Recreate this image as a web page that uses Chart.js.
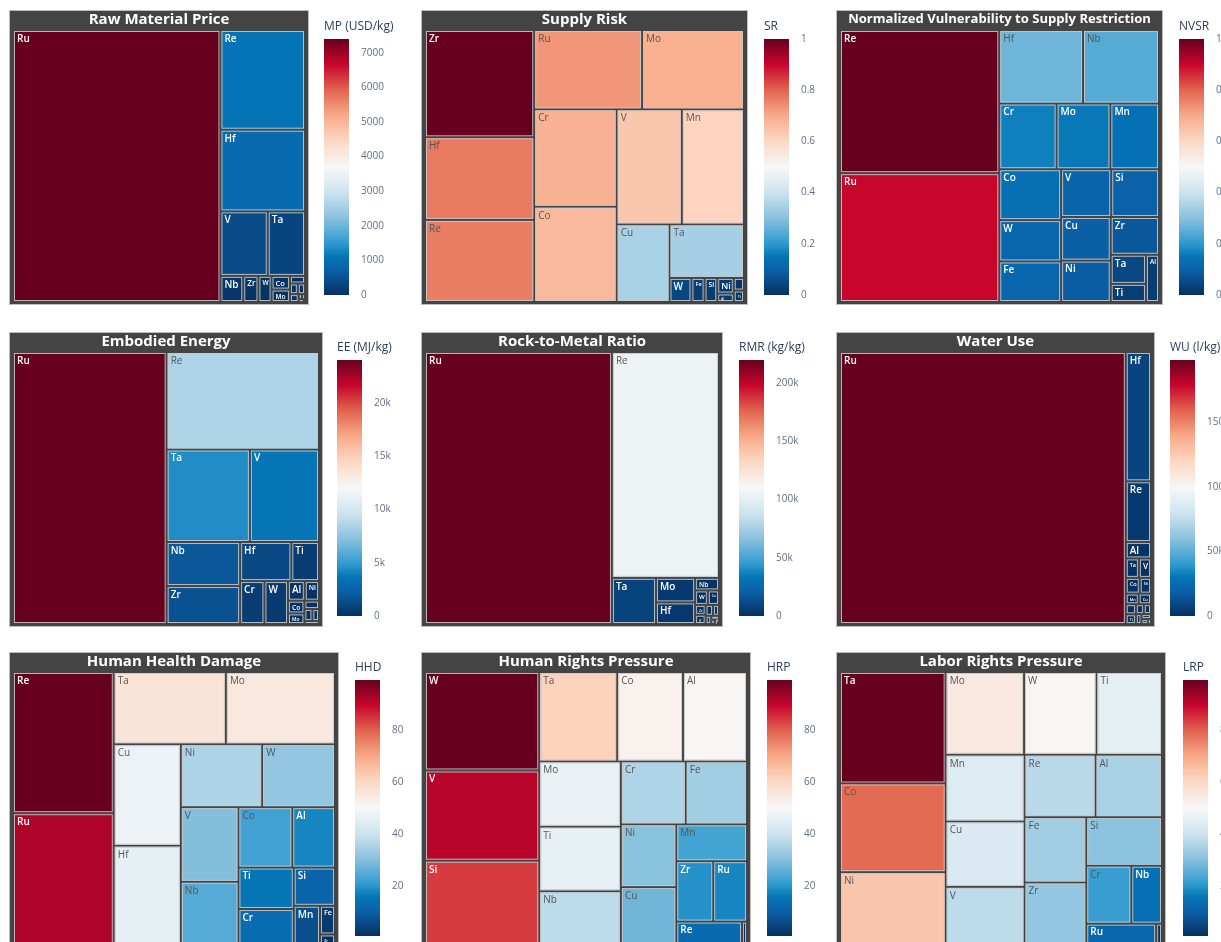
<!DOCTYPE html>
<html>
<head>
<meta charset="utf-8">
<script src="https://cdn.jsdelivr.net/npm/chart.js@4.4.1/dist/chart.umd.min.js"></script>
<style>
html, body { margin: 0; padding: 0; background: #fff; }
body { width: 1221px; height: 942px; overflow: hidden; position: relative; }
canvas { position: absolute; }
</style>
</head>
<body>
<script>
// values, biggest first (cell area and colour both follow the value)
const mpLabels = ['Ru','Re','Hf','V','Ta','Nb','Zr','W','Co','Mo','Ni','Cr','Ti','Cu','Al','Mn','Si','Fe'];
const mpValues = [7400,1105,905,400,315,78,52,45,33,30,15,11,10,9,2.2,2,1.8,0.5];
const mpRange = [0, 7400];
const mpTicks = [0,1000,2000,3000,4000,5000,6000,7000];

const srLabels = ['Zr','Hf','Re','Ru','Mo','Cr','Co','V','Mn','Cu','Ta','W','Fe','Si','Ni','Al','Nb','Ti'];
const srValues = [1.0,0.77,0.765,0.73,0.69,0.685,0.67,0.64,0.61,0.35,0.34,0.045,0.027,0.026,0.022,0.012,0.011,0.01];
const srRange = [0, 1];
const srTicks = [0,0.2,0.4,0.6,0.8,1];

const nvsrLabels = ['Re','Ru','Hf','Nb','Cr','Mo','Mn','Co','W','Fe','V','Si','Cu','Ni','Zr','Ta','Ti','Al'];
const nvsrValues = [1.0,0.9,0.27,0.245,0.165,0.155,0.14,0.138,0.112,0.11,0.105,0.1,0.095,0.09,0.08,0.045,0.028,0.027];
const nvsrRange = [0, 1];
const nvsrTicks = [0,0.2,0.4,0.6,0.8,1];

const eeLabels = ['Ru','Re','Ta','V','Nb','Zr','Hf','Ti','Cr','W','Al','Ni','Co','Mo','Cu','Mn','Si','Fe'];
const eeValues = [24000,8530,4420,3670,1860,1600,1150,620,600,580,190,160,120,100,70,55,45,25];
const eeRange = [0, 24000];
const eeTicks = [0,5000,10000,15000,20000];

const rmrLabels = ['Ru','Re','Ta','Mo','Hf','Nb','W','Co','Zr','V','Cu','Ni','Ti','Cr','Mn','Si','Al','Fe'];
const rmrValues = [220000,104600,8800,4150,3650,1300,800,700,450,420,350,280,200,130,70,35,28,12];
const rmrRange = [0, 220000];
const rmrTicks = [0,50000,100000,150000,200000];

const wuLabels = ['Ru','Hf','Re','Al','Ta','V','Co','Ni','Mn','Cu','Mo','Ti','Nb','W','Zr','Cr','Si','Fe'];
const wuValues = [198000,8300,3900,1050,650,600,560,450,350,330,260,250,200,180,140,120,80,40];
const wuRange = [0, 198000];
const wuTicks = [0,50000,100000,150000];

const hhdLabels = ['Re','Ru','Ta','Mo','Cu','Hf','Ni','W','V','Nb','Co','Al','Ti','Cr','Si','Mn','Fe','Zr'];
const hhdValues = [99.3,92,56.5,55,47.5,46,35.7,32,30,25,22.7,18,16,13.5,11,7,3,1];
const hhdRange = [1, 99.3];
const hhdTicks = [20,40,60,80];

const hrpLabels = ['W','V','Si','Ta','Co','Al','Mo','Ti','Nb','Cr','Fe','Ni','Cu','Mn','Zr','Ru','Re','Hf'];
const hrpValues = [99.3,91,84,61.5,52,50.5,47,46.5,38,36,34,30.7,27.8,23,19.7,18,13,1];
const hrpRange = [1, 99.3];
const hrpTicks = [20,40,60,80];

const lrpLabels = ['Ta','Co','Ni','Mo','W','Ti','Mn','Cu','V','Re','Al','Fe','Zr','Si','Cr','Nb','Ru','Hf'];
const lrpValues = [99.3,79,64,54.7,50.5,45.7,44.4,43.5,38,37.4,35,34,32,31,22,15,12,1];
const lrpRange = [1, 99.3];
const lrpTicks = [20,40,60,80];

// RdBu-like diverging scale, blue = low, red = high
const colorStops = [[0,'#053061'],[0.1,'#0b62a9'],[0.15,'#0474b6'],[0.2,'#2d99cf'],[0.3,'#88c1dd'],
  [0.4,'#cde3ef'],[0.5,'#f7f7f7'],[0.6,'#fcd9c5'],[0.7,'#f7ab8a'],[0.8,'#e2654f'],[0.9,'#c8062c'],[1,'#67001f']];

const plain = v => String(v);
const kfmt = v => v === 0 ? '0' : (v / 1000) + 'k';
const dec = v => String(Math.round(v * 10) / 10);

const panels = [
  {title: 'Raw Material Price', cbTitle: 'MP (USD/kg)', labels: mpLabels, values: mpValues, range: mpRange, ticks: mpTicks, fmt: plain, x: 9, w: 300, row: 0, cbX: 324},
  {title: 'Supply Risk', cbTitle: 'SR', labels: srLabels, values: srValues, range: srRange, ticks: srTicks, fmt: dec, x: 421, w: 327, row: 0, cbX: 764},
  {title: 'Normalized Vulnerability to Supply Restriction', cbTitle: 'NVSR', labels: nvsrLabels, values: nvsrValues, range: nvsrRange, ticks: nvsrTicks, fmt: dec, x: 836, w: 327, row: 0, cbX: 1179},
  {title: 'Embodied Energy', cbTitle: 'EE (MJ/kg)', labels: eeLabels, values: eeValues, range: eeRange, ticks: eeTicks, fmt: kfmt, x: 9, w: 314, row: 1, cbX: 337},
  {title: 'Rock-to-Metal Ratio', cbTitle: 'RMR (kg/kg)', labels: rmrLabels, values: rmrValues, range: rmrRange, ticks: rmrTicks, fmt: kfmt, x: 421, w: 302, row: 1, cbX: 739},
  {title: 'Water Use', cbTitle: 'WU (l/kg)', labels: wuLabels, values: wuValues, range: wuRange, ticks: wuTicks, fmt: kfmt, x: 836, w: 319, row: 1, cbX: 1170},
  {title: 'Human Health Damage', cbTitle: 'HHD', labels: hhdLabels, values: hhdValues, range: hhdRange, ticks: hhdTicks, fmt: plain, x: 9, w: 330, row: 2, cbX: 355},
  {title: 'Human Rights Pressure', cbTitle: 'HRP', labels: hrpLabels, values: hrpValues, range: hrpRange, ticks: hrpTicks, fmt: plain, x: 421, w: 330, row: 2, cbX: 767},
  {title: 'Labor Rights Pressure', cbTitle: 'LRP', labels: lrpLabels, values: lrpValues, range: lrpRange, ticks: lrpTicks, fmt: plain, x: 836, w: 330, row: 2, cbX: 1183}
];
const rowTop = [10, 332, 652];
const barTop = [39, 360, 680];
const boxH = 295, barH = 258, barW = 25;

Chart.defaults.font.family = "'Open Sans', sans-serif";

function hexRgb(h) {
  return [parseInt(h.slice(1, 3), 16), parseInt(h.slice(3, 5), 16), parseInt(h.slice(5, 7), 16)];
}

function colorAt(t) {
  t = Math.max(0, Math.min(1, t));
  for (let i = 1; i < colorStops.length; i++) {
    if (t <= colorStops[i][0]) {
      const a = colorStops[i - 1], b = colorStops[i];
      const f = (t - a[0]) / (b[0] - a[0]);
      const ca = hexRgb(a[1]), cb = hexRgb(b[1]);
      return ca.map((c, k) => Math.round(c + (cb[k] - c) * f));
    }
  }
  return hexRgb(colorStops[colorStops.length - 1][1]);
}

// d3-style squarify (ratio 1), values sorted big -> small
function squarify(values, x0, y0, x1, y1) {
  const rects = [];
  const n = values.length;
  let value = values.reduce((a, b) => a + b, 0);
  let i0 = 0, i1 = 0;
  while (i0 < n) {
    const dx = x1 - x0, dy = y1 - y0;
    let sum = values[i1++];
    let minV = sum, maxV = sum;
    const alpha = Math.max(dy / dx, dx / dy) / value;
    let beta = sum * sum * alpha;
    let minRatio = Math.max(maxV / beta, beta / minV);
    for (; i1 < n; i1++) {
      const v = values[i1];
      sum += v;
      if (v < minV) minV = v;
      if (v > maxV) maxV = v;
      beta = sum * sum * alpha;
      const r = Math.max(maxV / beta, beta / minV);
      if (r > minRatio) { sum -= v; break; }
      minRatio = r;
    }
    if (dx < dy) {
      const yy = i1 >= n ? y1 : y0 + dy * sum / value;
      let x = x0;
      for (let i = i0; i < i1; i++) {
        const w = dx * values[i] / sum;
        rects[i] = [x, y0, x + w, yy];
        x += w;
      }
      y0 = yy;
    } else {
      const xx = i1 >= n ? x1 : x0 + dx * sum / value;
      let y = y0;
      for (let i = i0; i < i1; i++) {
        const h = dy * values[i] / sum;
        rects[i] = [x0, y, xx, y + h];
        y += h;
      }
      x0 = xx;
    }
    value -= sum;
    i0 = i1;
  }
  return rects;
}

const treemapPlugin = {
  id: 'treemapCells',
  beforeDraw(chart) {
    const ctx = chart.ctx;
    ctx.save();
    ctx.fillStyle = '#444444';
    ctx.fillRect(0, 0, chart.width, chart.height);
    ctx.strokeStyle = '#bdbdbd';
    ctx.lineWidth = 1;
    ctx.strokeRect(0.5, 0.5, chart.width - 1, chart.height - 1);
    ctx.restore();
  },
  afterDatasetsDraw(chart) {
    const tree = chart.data.datasets[0].tree;
    if (!tree) return;
    const area = chart.chartArea;
    const w = area.right - area.left, h = area.bottom - area.top;
    const order = tree.values.map((v, i) => i).sort((a, b) => tree.values[b] - tree.values[a]);
    const rects = squarify(order.map(i => tree.values[i]), 0, 0, w, h);
    const xs = chart.scales.x, ys = chart.scales.y;
    const ctx = chart.ctx;
    const [lo, hi] = tree.range;
    ctx.save();
    order.forEach((idx, k) => {
      const r = rects[k];
      const px0 = xs.getPixelForValue(r[0] / w * 100);
      const px1 = xs.getPixelForValue(r[2] / w * 100);
      const py0 = ys.getPixelForValue(r[1] / h * 100);
      const py1 = ys.getPixelForValue(r[3] / h * 100);
      const rw = px1 - px0, rh = py1 - py0;
      if (rw < 2 || rh < 2) return;
      const rgb = colorAt((tree.values[idx] - lo) / (hi - lo));
      ctx.fillStyle = 'rgb(' + rgb.join(',') + ')';
      ctx.fillRect(px0 + 1, py0 + 1, rw - 2, rh - 2);
      ctx.strokeStyle = 'rgba(200,200,200,0.9)';
      ctx.lineWidth = 1;
      ctx.strokeRect(px0 + 1.5, py0 + 1.5, rw - 3, rh - 3);
      // label, shrunk to fit like plotly does
      const bright = (rgb[0] * 299 + rgb[1] * 587 + rgb[2] * 114) / 1000;
      const light = bright >= 128;
      const weight = light ? 400 : 600;
      let size = 10;
      ctx.font = weight + ' ' + size + "px 'Open Sans'";
      const tw = ctx.measureText(tree.labels[idx]).width;
      const availW = rw - 7;
      if (tw > availW) size = size * availW / tw;
      size = Math.min(size, (rh - 5) / 1.15);
      if (size < 3) return;
      ctx.font = weight + ' ' + size.toFixed(2) + "px 'Open Sans'";
      ctx.fillStyle = light ? '#555555' : '#ffffff';
      ctx.textBaseline = 'top';
      ctx.textAlign = 'left';
      ctx.fillText(tree.labels[idx], px0 + 4, py0 + 4);
    });
    ctx.restore();
  }
};

const measureCtx = document.createElement('canvas').getContext('2d');

function addCanvas(left, top, width, height) {
  const c = document.createElement('canvas');
  c.width = width;
  c.height = height;
  c.style.left = left + 'px';
  c.style.top = top + 'px';
  c.style.width = width + 'px';
  c.style.height = height + 'px';
  document.body.appendChild(c);
  return c;
}

panels.forEach(p => {
  // header title, shrunk when the name is too long for the box
  let ts = 15;
  measureCtx.font = "bold 15px 'Open Sans'";
  const tw = measureCtx.measureText(p.title).width;
  if (tw > p.w - 24) ts = 15 * (p.w - 24) / tw;
  const titlePadBottom = 19 - ts * 1.2;

  const tmCanvas = addCanvas(p.x, rowTop[p.row], p.w, boxH);
  new Chart(tmCanvas, {
    type: 'scatter',
    data: {datasets: [{label: p.title, data: [], tree: {labels: p.labels, values: p.values, range: p.range}}]},
    options: {
      responsive: false,
      animation: false,
      devicePixelRatio: 1,
      layout: {padding: {left: 4, right: 4, top: 0, bottom: 3}},
      scales: {
        x: {type: 'linear', min: 0, max: 100, display: false},
        y: {type: 'linear', min: 0, max: 100, reverse: true, display: false}
      },
      plugins: {
        legend: {display: false},
        tooltip: {enabled: false},
        title: {
          display: true,
          text: p.title,
          color: '#ffffff',
          font: {size: ts, weight: 'bold', lineHeight: 1.2},
          padding: {top: 1, bottom: titlePadBottom}
        }
      }
    },
    plugins: [treemapPlugin]
  });

  // colour bar: one floating bar from min to max filled with the scale
  const cw = 92;
  const cbCanvas = addCanvas(p.cbX, barTop[p.row] - 20, cw, 20 + barH + 8);
  new Chart(cbCanvas, {
    type: 'bar',
    data: {
      labels: [p.cbTitle],
      datasets: [{
        data: [[p.range[0], p.range[1]]],
        barPercentage: 1,
        categoryPercentage: 1,
        borderWidth: 0,
        backgroundColor: c => {
          const chart = c.chart;
          const ys = chart.scales.y;
          if (!chart.chartArea || !ys) return '#888';
          const g = chart.ctx.createLinearGradient(0, ys.getPixelForValue(p.range[0]), 0, ys.getPixelForValue(p.range[1]));
          colorStops.forEach(s => g.addColorStop(s[0], s[1]));
          return g;
        }
      }]
    },
    options: {
      responsive: false,
      animation: false,
      devicePixelRatio: 1,
      layout: {padding: {left: 0, right: 0, top: 0, bottom: 8}},
      scales: {
        x: {display: false},
        y: {
          type: 'linear',
          position: 'right',
          min: p.range[0],
          max: p.range[1],
          grid: {display: false},
          border: {display: false},
          afterBuildTicks: s => { s.ticks = p.ticks.map(v => ({value: v})); },
          afterFit: s => { s.width = cw - barW; },
          ticks: {
            autoSkip: false,
            padding: 4,
            color: '#5f6f84',
            font: {size: 10},
            callback: v => p.fmt(v)
          }
        }
      },
      plugins: {
        legend: {display: false},
        tooltip: {enabled: false},
        title: {
          display: true,
          text: p.cbTitle,
          align: 'start',
          color: '#2a3f5f',
          font: {size: 12, weight: 'normal', lineHeight: 1.2},
          padding: {top: 0.6, bottom: 5}
        }
      }
    }
  });
});
</script>
</body>
</html>
